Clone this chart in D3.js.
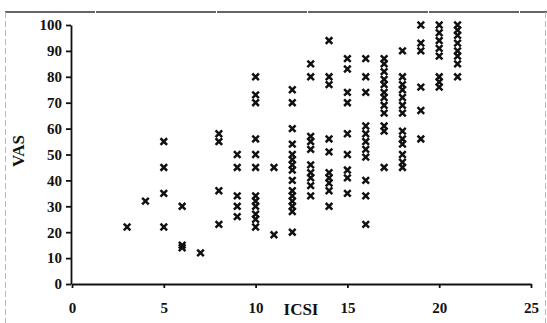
<!DOCTYPE html>
<html>
<head>
<meta charset="utf-8">
<script src="https://cdn.jsdelivr.net/npm/d3@7"></script>
<style>
  body { margin: 0; background: #fff; }
  svg { display: block; }
</style>
</head>
<body>
<svg id="chart"></svg>
<script>
//ICSI scores (x) and the VAS values read for each score
const icsiScores = [3, 4, 5, 6, 7, 8, 9, 10, 11, 12, 13, 14, 15, 16, 17, 18, 19, 20, 21]
const vasByScore = [
    [22],
    [32],
    [55, 45, 35, 22],
    [30, 15, 14],
    [12],
    [58, 55, 36, 23],
    [50, 45, 34, 30, 26],
    [80, 73, 70, 56, 50, 45, 34, 32, 30, 27, 25, 22],
    [45, 19],
    [75, 70, 60, 54, 50, 48, 46, 44, 40, 36, 34, 32, 30, 28, 20],
    [85, 80, 57, 55, 52, 46, 43, 41, 38, 34],
    [94, 80, 77, 56, 51, 43, 41, 39, 36, 30],
    [87, 83, 74, 70, 58, 50, 44, 41, 35],
    [87, 80, 74, 61, 58, 55, 52, 49, 40, 34, 23],
    [87, 85, 82, 79, 77, 74, 72, 69, 66, 61, 59, 45],
    [90, 80, 77, 75, 72, 69, 66, 59, 56, 54, 50, 47, 45],
    [100, 93, 90, 76, 67, 56],
    [100, 97, 94, 91, 88, 80, 78, 76],
    [100, 98, 96, 93, 90, 88, 85, 80]
]
const xTicks = [0, 5, 10, 15, 20, 25]
const yTicks = [0, 10, 20, 30, 40, 50, 60, 70, 80, 90, 100]

const points = []
icsiScores.forEach((s, i) => vasByScore[i].forEach(v => points.push({ x: s, y: v })))

//set up svg container
const width = 547
const height = 323
const font = '"Liberation Serif", "Times New Roman", serif'

const svg = d3.select('#chart')
              .attr('width', width)
              .attr('height', height)

//frame of the scanned figure
svg.append('line')
   .attr('x1', 5).attr('x2', 547).attr('y1', 12).attr('y2', 12)
   .attr('stroke', '#3a3030').attr('stroke-width', 1.5)
   .attr('stroke-dasharray', '90 1 120 1')
svg.append('line')
   .attr('x1', 5.5).attr('x2', 5.5).attr('y1', 12).attr('y2', 323)
   .attr('stroke', '#c4b4b4').attr('stroke-width', 1)
   .attr('stroke-dasharray', '6 3')
svg.append('line')
   .attr('x1', 545.5).attr('x2', 545.5).attr('y1', 12).attr('y2', 323)
   .attr('stroke', '#c4b4b4').attr('stroke-width', 1)
   .attr('stroke-dasharray', '6 3')

//setting the scale
const xScale = d3.scaleLinear()
                 .domain([0, 25])
                 .range([72, 531])

const yScale = d3.scaleLinear()
                 .domain([0, 100])
                 .range([284, 25])

//setting the axes
const xAxis = d3.axisBottom(xScale)
                .tickValues(xTicks)
                .tickSizeInner(4)
                .tickSizeOuter(0)
                .tickPadding(14)

const yAxis = d3.axisLeft(yScale)
                .tickValues(yTicks)
                .tickSizeInner(5)
                .tickSizeOuter(0)
                .tickPadding(4)

svg.append('g').call(xAxis)
   .attr('transform', `translate(0, ${yScale(0)})`)

svg.append('g').call(yAxis)
   .attr('transform', `translate(${xScale(0) - 1}, 0)`)

svg.selectAll('.domain, .tick line')
   .attr('stroke', '#111')
   .attr('stroke-width', 1.8)

svg.selectAll('.tick text')
   .attr('fill', '#111')
   .style('font-family', font)
   .style('font-weight', 'bold')
   .style('font-size', '15px')

//axis titles
svg.append('text')
   .attr('x', 301).attr('y', 315)
   .attr('text-anchor', 'middle')
   .attr('fill', '#111')
   .style('font-family', font).style('font-weight', 'bold').style('font-size', '17px')
   .text('ICSI')

svg.append('text')
   .attr('transform', 'translate(24, 151) rotate(-90)')
   .attr('text-anchor', 'middle')
   .attr('fill', '#111')
   .style('font-family', font).style('font-weight', 'bold').style('font-size', '17px')
   .text('VAS')

//setting the svg data
const marker = d3.symbol().type(d3.symbolX).size(30)

svg.selectAll('.pt')
   .data(points)
   .join('path')
   .attr('class', 'pt')
   .attr('d', marker)
   .attr('transform', d => `translate(${xScale(d.x)}, ${yScale(d.y)})`)
   .attr('fill', 'none')
   .attr('stroke', '#111')
   .attr('stroke-width', 2.5)
</script>
</body>
</html>
